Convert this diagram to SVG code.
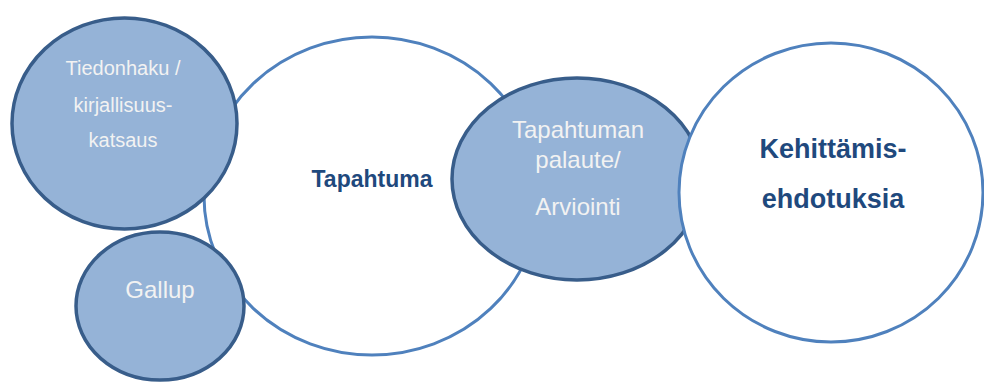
<svg xmlns="http://www.w3.org/2000/svg" width="984" height="382" viewBox="0 0 984 382">
<style>
.white{fill:#ffffff;stroke:#4f81bd;stroke-width:3}
.blue{fill:#95b3d7;stroke:#385d8a;stroke-width:3.5}
.lt{font-family:"Liberation Sans",Arial,sans-serif;fill:#f2f2f2;text-anchor:middle}
.dt{font-family:"Liberation Sans",Arial,sans-serif;fill:#1f497d;font-weight:bold;text-anchor:middle}
</style>
<rect width="984" height="382" fill="#ffffff"/>
<g id="connectors"></g>
<g id="tapahtuma">
<ellipse class="white" cx="372" cy="196" rx="168" ry="159"/>
<text class="dt" x="372" y="187" font-size="23">Tapahtuma</text>
</g>
<g id="tiedonhaku">
<ellipse class="blue" cx="124.5" cy="123.5" rx="112.5" ry="105.5"/>
<text class="lt" x="123" y="75" font-size="20">Tiedonhaku /</text>
<text class="lt" x="123" y="112" font-size="20">kirjallisuus-</text>
<text class="lt" x="123" y="147" font-size="20">katsaus</text>
</g>
<g id="gallup">
<ellipse class="blue" cx="160" cy="306" rx="84" ry="74"/>
<text class="lt" x="160" y="298" font-size="24">Gallup</text>
</g>
<g id="palaute">
<ellipse class="blue" cx="577" cy="179" rx="125" ry="101"/>
<text class="lt" x="578" y="138" font-size="24">Tapahtuman</text>
<text class="lt" x="578" y="168" font-size="24">palaute/</text>
<text class="lt" x="578" y="215" font-size="24">Arviointi</text>
</g>
<g id="kehittamis">
<ellipse class="white" cx="831" cy="192.5" rx="152" ry="149.5"/>
<text class="dt" x="833" y="158" font-size="27">Kehittämis-</text>
<text class="dt" x="833" y="208" font-size="27">ehdotuksia</text>
</g>
</svg>
